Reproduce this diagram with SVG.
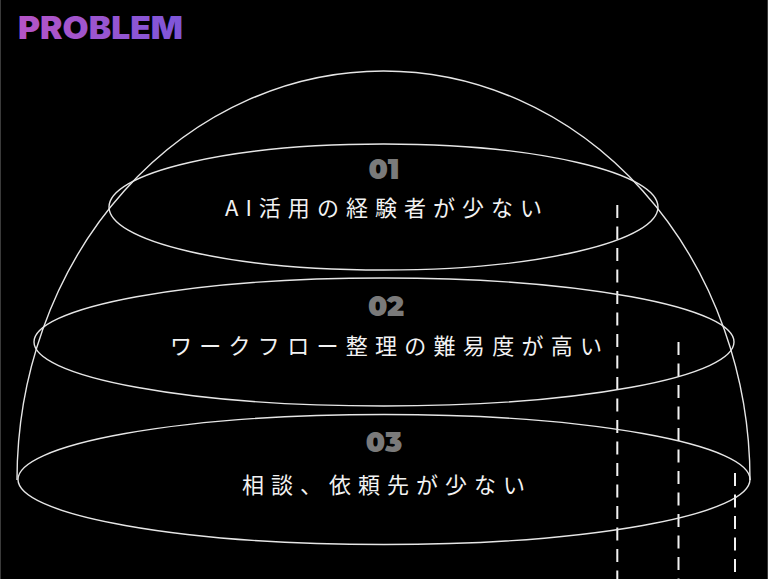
<svg xmlns="http://www.w3.org/2000/svg" width="768" height="579" viewBox="0 0 768 579">
<defs>
<linearGradient id="tg" x1="0" y1="0" x2="1" y2="0">
<stop offset="0" stop-color="#b654c6"/>
<stop offset="1" stop-color="#7d56d9"/>
</linearGradient>
<style>
.ln{fill:none;stroke:#e6e6e6;stroke-width:1.4}
.ds{fill:none;stroke:#f2f2f2;stroke-width:2;stroke-dasharray:13 8.5}
.num{font-family:"Montserrat","Inter","Lato",sans-serif;font-weight:900;font-size:28px;fill:#7a7a7a;text-anchor:middle}
.lbl{font-family:"Noto Sans CJK JP","Noto Sans",sans-serif;font-weight:400;font-size:22px;fill:#f2f2f2}
</style>
</defs>
<rect width="768" height="579" fill="#000"/>
<line x1="0.5" y1="0" x2="0.5" y2="579" stroke="#3a3a3a" stroke-width="1"/>
<line x1="767.5" y1="0" x2="767.5" y2="579" stroke="#3a3a3a" stroke-width="1"/>
<text id="title" x="18" y="38.5" font-family="Inter, Lato, sans-serif" font-weight="900" font-size="31" fill="url(#tg)" textLength="165" lengthAdjust="spacingAndGlyphs">PROBLEM</text>
<g id="connectors">
<line class="ds" x1="617.3" y1="205" x2="617.3" y2="579"/>
<line class="ds" x1="678.5" y1="342" x2="678.5" y2="579"/>
<line class="ds" x1="735" y1="473" x2="735" y2="579"/>
</g>
<g id="dome">
<path class="ln" d="M17,480 A366.5,409 0 0 1 750,480"/>
</g>
<g id="layer1">
<ellipse class="ln" cx="383.5" cy="207" rx="274.5" ry="63"/>
<text class="num" x="384" y="179">01</text>
<text class="lbl" x="225" y="216" textLength="317" lengthAdjust="spacing">AI活用の経験者が少ない</text>
</g>
<g id="layer2">
<ellipse class="ln" cx="384" cy="342" rx="350" ry="64"/>
<text class="num" x="386" y="316">02</text>
<text class="lbl" x="170" y="354" textLength="432" lengthAdjust="spacing">ワークフロー整理の難易度が高い</text>
</g>
<g id="layer3">
<ellipse class="ln" cx="384" cy="479.5" rx="366" ry="65"/>
<text class="num" x="384" y="452">03</text>
<text class="lbl" x="242" y="493" textLength="283" lengthAdjust="spacing">相談、依頼先が少ない</text>
</g>
</svg>
